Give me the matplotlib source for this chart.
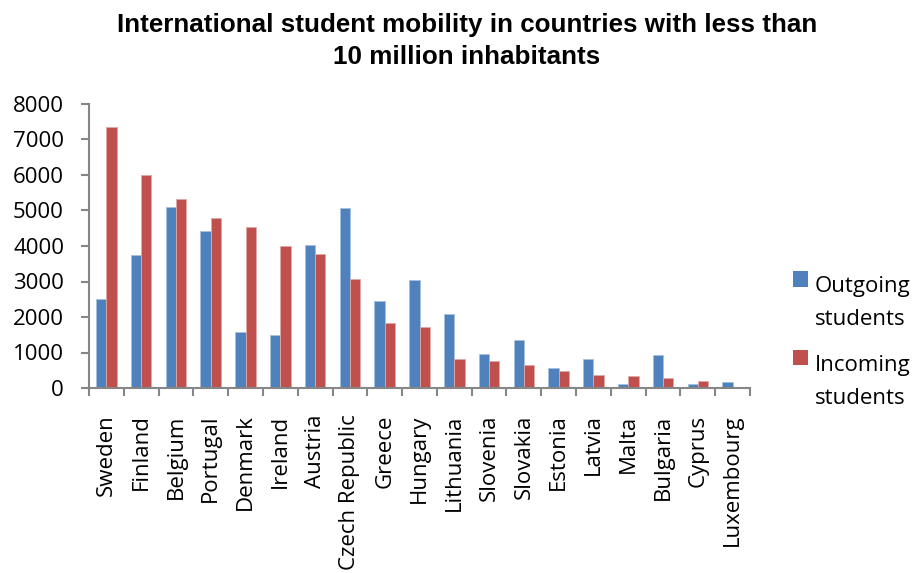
import matplotlib
matplotlib.use("Agg")
import matplotlib.pyplot as plt
import numpy as np
from matplotlib.patches import Rectangle
from matplotlib.legend_handler import HandlerPatch

countries = ["Sweden", "Finland", "Belgium", "Portugal", "Denmark", "Ireland",
             "Austria", "Czech Republic", "Greece", "Hungary", "Lithuania",
             "Slovenia", "Slovakia", "Estonia", "Latvia", "Malta", "Bulgaria",
             "Cyprus", "Luxembourg"]
outgoing = [2510, 3760, 5110, 4420, 1570, 1500, 4020, 5070, 2460, 3030, 2075,
            970, 1340, 560, 810, 110, 930, 120, 170]
incoming = [7360, 5990, 5310, 4780, 4540, 4000, 3770, 3060, 1830, 1710, 810,
            750, 650, 490, 370, 330, 290, 210, 15]
yticks = [0, 1000, 2000, 3000, 4000, 5000, 6000, 7000, 8000]

BLUE = "#4F81BD"
RED = "#C0504D"
GREY = "#868686"
FONT = "Open Sans"

fig = plt.figure(figsize=(9.17, 5.73), dpi=100)
ax = fig.add_axes([89/917, 1-388/573, (750-89)/917, (388-104)/573])

x = np.arange(len(countries))
w = 0.296
ax.bar(x - w/2, outgoing, width=w, color=BLUE, edgecolor="#A7C0DE", linewidth=0.6)
ax.bar(x + w/2, incoming, width=w, color=RED, edgecolor="#E0A9A7", linewidth=0.6)

ax.set_xlim(-0.5, len(countries) - 0.5)
ax.set_ylim(0, 8000)
ax.set_yticks(yticks)
ax.set_yticklabels([str(v) for v in yticks], fontfamily=FONT, fontsize=16)
ax.set_xticks(x)
ax.set_xticklabels(countries, rotation=90, fontfamily=FONT, fontsize=16, va="top")
ax.set_xticks(np.arange(len(countries) + 1) - 0.5, minor=True)
ax.tick_params(axis="x", which="major", length=0, pad=19)
ax.tick_params(axis="x", which="minor", length=6, width=1.5, color=GREY, direction="out")
ax.tick_params(axis="y", length=6, width=1.5, color=GREY, direction="out", pad=12)

for s in ["top", "right"]:
    ax.spines[s].set_visible(False)
for s in ["left", "bottom"]:
    ax.spines[s].set_color(GREY)
    ax.spines[s].set_linewidth(1.5)

fig.text(0.509, 1-41/573, "International student mobility in countries with less than\n10 million inhabitants",
         ha="center", va="center", fontfamily="Liberation Sans", fontweight="bold",
         fontsize=18.7, linespacing=1.4)

def top_square(legend, orig_handle, xdescent, ydescent, width, height, fontsize):
    return Rectangle((-xdescent, -ydescent + 1.1*fontsize), width, height)

h1 = Rectangle((0, 0), 1, 1, facecolor=BLUE)
h2 = Rectangle((0, 0), 1, 1, facecolor=RED)
leg = fig.legend([h1, h2], ["Outgoing\nstudents", "Incoming\nstudents"],
                 loc="upper left", bbox_to_anchor=(782/917, 1-265/573),
                 frameon=False, borderpad=0, handlelength=0.68, handleheight=0.68,
                 handletextpad=0.28, labelspacing=1.1,
                 prop={"family": FONT, "size": 16},
                 handler_map={Rectangle: HandlerPatch(patch_func=top_square)})
for t in leg.get_texts():
    t.set_linespacing(1.75)

fig.savefig("out.png", dpi=100)
